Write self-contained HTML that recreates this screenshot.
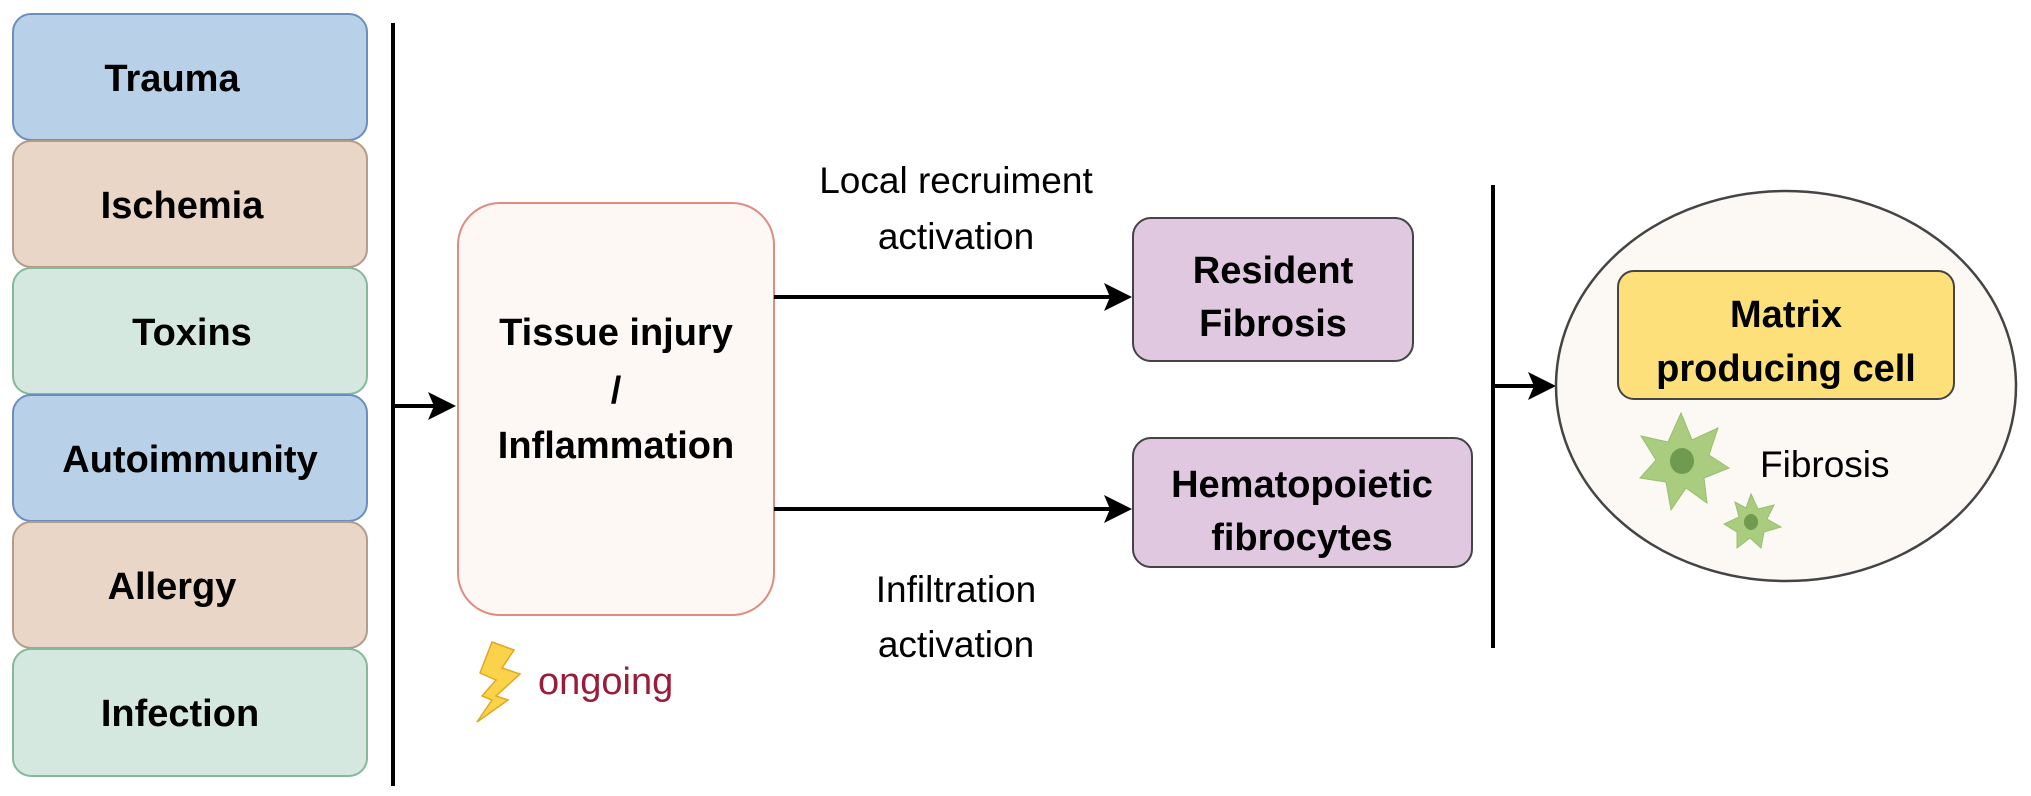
<!DOCTYPE html>
<html><head><meta charset="utf-8"><style>
html,body{margin:0;padding:0;background:#fff;}
svg{display:block;}
text{font-family:"Liberation Sans",Arial,sans-serif;}
.b{font-weight:bold;font-size:38px;fill:#000;}
.n{font-size:37px;fill:#000;}
</style></head><body>
<svg width="2031" height="796" viewBox="0 0 2031 796" xmlns="http://www.w3.org/2000/svg">
<defs>
<marker id="ah" markerWidth="10" markerHeight="10" refX="8" refY="5" orient="auto" markerUnits="userSpaceOnUse" viewBox="0 0 10 10">
</marker>
</defs>
<!-- left boxes -->
<g stroke-width="2">
<rect x="13" y="14" width="354" height="126" rx="18" fill="#b9d1e8" stroke="#6c8ebf"/>
<rect x="13" y="141" width="354" height="126" rx="18" fill="#ead6c6" stroke="#b39c8a"/>
<rect x="13" y="268" width="354" height="126" rx="18" fill="#d5e8df" stroke="#86b89e"/>
<rect x="13" y="395" width="354" height="126" rx="18" fill="#b9d1e8" stroke="#6c8ebf"/>
<rect x="13" y="522" width="354" height="126" rx="18" fill="#ead6c6" stroke="#b39c8a"/>
<rect x="13" y="649" width="354" height="127" rx="18" fill="#d5e8df" stroke="#86b89e"/>
</g>
<g class="b" text-anchor="middle">
<text x="172" y="91" class="b">Trauma</text>
<text x="182" y="218" class="b">Ischemia</text>
<text x="192" y="345" class="b">Toxins</text>
<text x="190" y="472" class="b">Autoimmunity</text>
<text x="172" y="599" class="b">Allergy</text>
<text x="180" y="726" class="b">Infection</text>
</g>
<!-- bar 1 -->
<line x1="393" y1="23" x2="393" y2="786" stroke="#000" stroke-width="4"/>
<line x1="393" y1="406" x2="440" y2="406" stroke="#000" stroke-width="4"/>
<polygon points="456,406 428,392 434,406 428,420" fill="#000"/>
<!-- tissue box -->
<rect x="458" y="203" width="316" height="412" rx="42" fill="#fdf8f4" stroke="#e08a80" stroke-width="2"/>
<text x="616" y="345" text-anchor="middle" class="b">Tissue injury</text>
<text x="616" y="403" text-anchor="middle" class="b">/</text>
<text x="616" y="458" text-anchor="middle" class="b">Inflammation</text>
<!-- lightning -->
<polygon points="492,642 514,650 502,668 520,674 496,696 508,700 477,722 492,700 482,696 496,680 480,673" fill="#fbd34a" stroke="#e0a820" stroke-width="1.5"/>
<text x="538" y="694" font-size="38" fill="#9b1b3b" font-family="Liberation Sans, sans-serif">ongoing</text>
<!-- arrows -->
<line x1="774" y1="297" x2="1112" y2="297" stroke="#000" stroke-width="4"/>
<polygon points="1132,297 1104,283 1110,297 1104,311" fill="#000"/>
<line x1="774" y1="509" x2="1112" y2="509" stroke="#000" stroke-width="4"/>
<polygon points="1132,509 1104,495 1110,509 1104,523" fill="#000"/>
<text x="956" y="193" text-anchor="middle" class="n">Local recruiment</text>
<text x="956" y="249" text-anchor="middle" class="n">activation</text>
<text x="956" y="602" text-anchor="middle" class="n">Infiltration</text>
<text x="956" y="657" text-anchor="middle" class="n">activation</text>
<!-- purple boxes -->
<rect x="1133" y="218" width="280" height="143" rx="18" fill="#dfc8e0" stroke="#444" stroke-width="2"/>
<text x="1273" y="283" text-anchor="middle" class="b">Resident</text>
<text x="1273" y="336" text-anchor="middle" class="b">Fibrosis</text>
<rect x="1133" y="438" width="339" height="129" rx="18" fill="#dfc8e0" stroke="#444" stroke-width="2"/>
<text x="1302" y="497" text-anchor="middle" class="b">Hematopoietic</text>
<text x="1302" y="550" text-anchor="middle" class="b">fibrocytes</text>
<!-- bar 2 -->
<line x1="1493" y1="185" x2="1493" y2="648" stroke="#000" stroke-width="4"/>
<line x1="1493" y1="386" x2="1538" y2="386" stroke="#000" stroke-width="4"/>
<polygon points="1556,386 1528,372 1534,386 1528,400" fill="#000"/>
<!-- circle -->
<ellipse cx="1786" cy="386" rx="230" ry="195" fill="#fcf9f5" stroke="#444" stroke-width="2.5"/>
<rect x="1618" y="271" width="336" height="128" rx="16" fill="#fde07a" stroke="#444" stroke-width="2"/>
<text x="1786" y="327" text-anchor="middle" class="b">Matrix</text>
<text x="1786" y="381" text-anchor="middle" class="b">producing cell</text>
<!-- cells -->
<polygon points="1681,413 1692,440 1718,428 1709,455 1729,468 1704,478 1707,503 1686,488 1671,510 1666,482 1640,478 1656,460 1641,436 1668,442" fill="#a9cc7e" stroke="#98bf70" stroke-width="1"/>
<ellipse cx="1682" cy="461" rx="12" ry="13" fill="#6f9a4f"/>
<polygon points="1751,494 1758,509 1774,505 1767,519 1781,527 1764,532 1761,548 1750,538 1737,548 1737,532 1724,524 1739,517 1735,502 1746,508" fill="#a9cc7e" stroke="#98bf70" stroke-width="1"/>
<ellipse cx="1751" cy="522" rx="7" ry="8" fill="#6f9a4f"/>
<text x="1760" y="477" class="n">Fibrosis</text>
</svg>
</body></html>
